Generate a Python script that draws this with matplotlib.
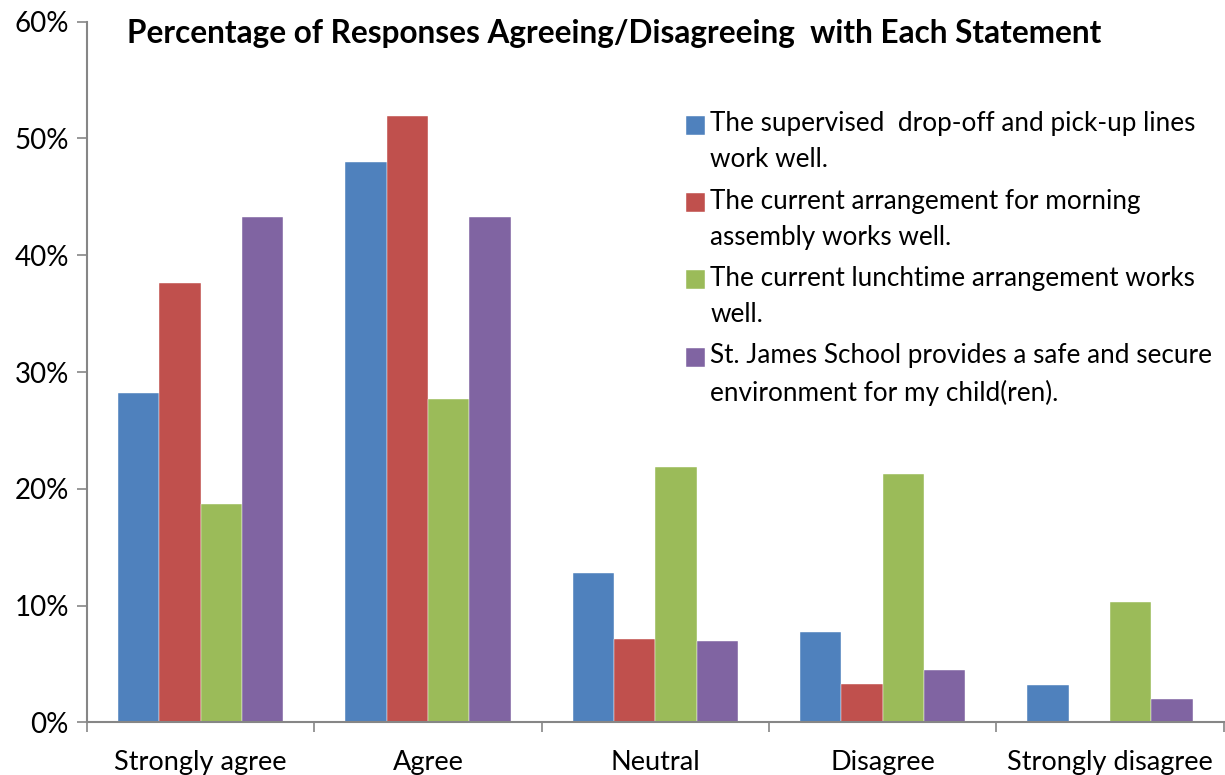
import numpy as np
import matplotlib.pyplot as plt
from matplotlib.ticker import PercentFormatter
from matplotlib.legend_handler import HandlerPatch
from matplotlib.patches import Rectangle
from matplotlib.container import BarContainer

plt.rcParams['font.family'] = ['Lato', 'DejaVu Sans']

categories = ['Strongly agree', 'Agree', 'Neutral', 'Disagree', 'Strongly disagree']
statements = [
    'The supervised  drop-off and pick-up lines\nwork well.',
    'The current arrangement for morning\nassembly works well.',
    'The current lunchtime arrangement works\nwell.',
    'St. James School provides a safe and secure\nenvironment for my child(ren).',
]
dropoff = [28.2, 48.0, 12.8, 7.7, 3.2]
assembly = [37.6, 51.9, 7.1, 3.3, 0.0]
lunchtime = [18.7, 27.7, 21.9, 21.3, 10.3]
safe = [43.3, 43.3, 7.0, 4.5, 2.0]
colors = ['#4F81BD', '#C0504D', '#9BBB59', '#8064A2']

series = [dropoff, assembly, lunchtime, safe]
axis_grey = '#868686'
LINE_PT = 35 * 72 / 100  # legend line pitch in points


def top_square(legend, orig_handle, xdescent, ydescent, width, height, fontsize):
    # put the key square next to the first line of a two-line label
    return Rectangle((-xdescent, -ydescent + LINE_PT / 2), width, height)


def first_child(legend_handle, orig_handle):
    legend_handle.update_from(orig_handle[0])


fig = plt.figure(figsize=(12.25, 7.75), dpi=100)
ax = fig.add_axes([0.071, 0.068, 0.928, 0.904])

x = np.arange(len(categories))
width = 1 / 5.5
for i, (vals, col, lab) in enumerate(zip(series, colors, statements)):
    ax.bar(x + (i - 1.5) * width, vals, width, color=col, label=lab,
           edgecolor='white', linewidth=0.3)

ax.set_xlim(-0.5, len(categories) - 0.5)
ax.set_ylim(0, 60)
ax.set_yticks(np.arange(0, 61, 10))
ax.yaxis.set_major_formatter(PercentFormatter(decimals=0))
ax.set_xticks(x)
ax.set_xticklabels(categories)
ax.set_xticks(np.arange(-0.5, len(categories)), minor=True)
ax.tick_params(axis='x', which='major', length=0, pad=20, labelsize=19.5)
ax.tick_params(axis='x', which='minor', length=7, width=1.2, color=axis_grey)
ax.tick_params(axis='y', length=7, width=1.2, color=axis_grey, pad=6, labelsize=20)

for side in ['top', 'right']:
    ax.spines[side].set_visible(False)
for side in ['left', 'bottom']:
    ax.spines[side].set_color(axis_grey)
    ax.spines[side].set_linewidth(1.5)

fig.text(127 / 1225, 1 - 33 / 775,
         'Percentage of Responses Agreeing/Disagreeing  with Each Statement',
         fontsize=22.7, fontweight='bold', ha='left', va='center')

leg = ax.legend(loc='upper left', bbox_to_anchor=(0.527, 0.872), frameon=False,
                fontsize=18.8, handlelength=0.72, handleheight=0.72,
                handletextpad=0.2, labelspacing=0.62, borderpad=0,
                borderaxespad=0,
                handler_map={BarContainer: HandlerPatch(patch_func=top_square,
                                                        update_func=first_child)})
for t in leg.get_texts():
    t.set_linespacing(1.55)

fig.savefig('out.png', dpi=100)
